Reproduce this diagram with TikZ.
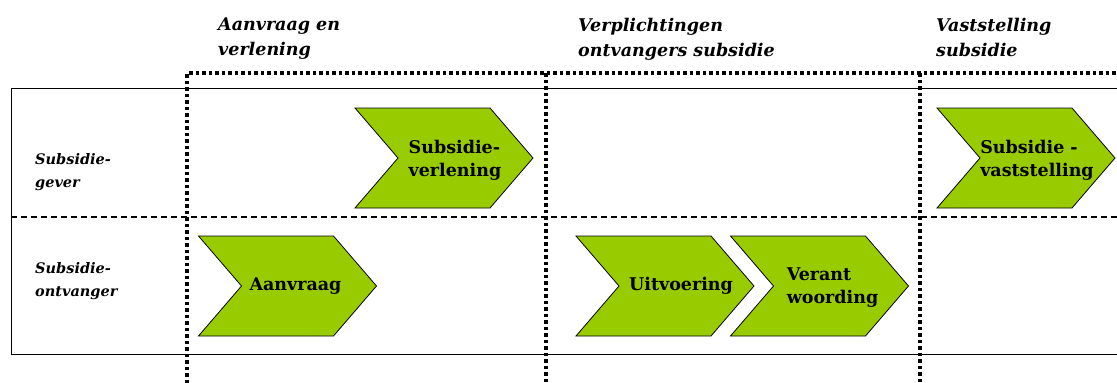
\documentclass[tikz,border=0pt]{standalone}
\usepackage{fontspec}
\setmainfont{DejaVu Serif}
\usetikzlibrary{shapes.symbols}
\definecolor{stapgroen}{RGB}{153,204,0}
\tikzset{
  stap/.style={signal, signal from=west, signal to=east, signal pointer angle=98.6,
    draw=black, line width=0.8pt, fill=stapgroen, minimum width=178pt, minimum height=100pt, inner sep=0pt},
  staptekst/.style={align=left, inner sep=0pt, font=\bfseries\fontsize{17.5}{23}\selectfont},
  fase/.style={anchor=north west, align=left, inner sep=0pt, font=\bfseries\itshape\fontsize{17.5}{25}\selectfont},
  rol/.style={anchor=west, align=left, inner sep=0pt, font=\bfseries\itshape\fontsize{14.5}{23}\selectfont},
  grens/.style={line width=3.8pt, dash pattern=on 3.5pt off 3pt},
  scheiding/.style={line width=1.4pt, dash pattern=on 6pt off 4pt}
}
\begin{document}
\begin{tikzpicture}[x=1pt,y=-1pt]
  \useasboundingbox (0,0) rectangle (1117,383);

  % rijen
  \draw[line width=1pt] (1117,88) -- (11,88) -- (11,354) -- (1117,354);
  \draw[scheiding] (11,217) -- (1117,217);

  % fasegrenzen
  \draw[grens] (187,383) -- (187,73) -- (1117,73);
  \draw[grens] (546,73) -- (546,383);
  \draw[grens] (920,73) -- (920,383);

  % fasen
  \node[fase] (aanvraagfase) at (218,18) {Aanvraag en\\verlening};
  \node[fase] (verplichtingen) at (578,18) {Verplichtingen\\ontvangers subsidie};
  \node[fase] (vaststelling) at (936,18) {Vaststelling\\subsidie};

  % rollen
  \node[rol] (gever) at (35,172) {Subsidie-\\gever};
  \node[rol] (ontvanger) at (35,281) {Subsidie-\\ontvanger};

  % stappen
  \node[stap] (verlening) at (444,158) {};
  \node[stap] (vastst) at (1026,158) {};
  \node[stap] (aanvraag) at (287.5,286) {};
  \node[stap] (uitvoering) at (665,286) {};
  \node[stap] (verantw) at (819.5,286) {};

  \node[staptekst] (verleningtekst) at ([xshift=11pt,yshift=-2pt]verlening.center) {Subsidie-\\verlening};
  \node[staptekst] (vaststtekst) at ([xshift=11pt,yshift=-2pt]vastst.center) {Subsidie -\\vaststelling};
  \node[staptekst] (aanvraagtekst) at ([xshift=8pt]aanvraag.center) {Aanvraag};
  \node[staptekst] (uitvoeringtekst) at ([xshift=16pt]uitvoering.center) {Uitvoering};
  \node[staptekst] (verantwtekst) at ([xshift=13pt,yshift=-2pt]verantw.center) {Verant\\woording};
\end{tikzpicture}
\end{document}
